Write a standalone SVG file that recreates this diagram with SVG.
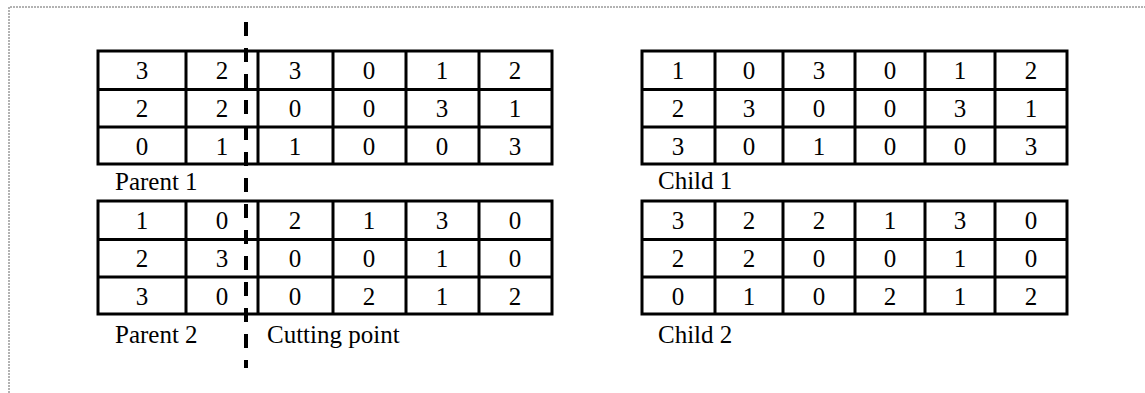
<svg xmlns="http://www.w3.org/2000/svg" width="1145" height="393" viewBox="0 0 1145 393">
<style>
.grid{fill:none;stroke:#000;stroke-width:3}
.n{font-family:"Liberation Serif","Times New Roman",serif;font-size:25px;text-anchor:middle;fill:#000}
.lbl{font-family:"Liberation Serif","Times New Roman",serif;font-size:25px;fill:#000}
.frame{stroke:#666;stroke-width:1;stroke-dasharray:2 1;fill:none}
</style>
<rect width="1145" height="393" fill="#fff"/>
<path class="frame" d="M9,393 V7 H1145"/>

<g id="parent1">
<rect class="grid" x="98" y="51" width="454" height="113"/>
<path class="grid" d="M186,51V164M258,51V164M333,51V164M406,51V164M479,51V164M98,89.5H552M98,127H552"/>
<g class="n">
<text x="142" y="79">3</text><text x="222" y="79">2</text><text x="295" y="79">3</text><text x="369" y="79">0</text><text x="442" y="79">1</text><text x="515" y="79">2</text>
<text x="142" y="117">2</text><text x="222" y="117">2</text><text x="295" y="117">0</text><text x="369" y="117">0</text><text x="442" y="117">3</text><text x="515" y="117">1</text>
<text x="142" y="155">0</text><text x="222" y="155">1</text><text x="295" y="155">1</text><text x="369" y="155">0</text><text x="442" y="155">0</text><text x="515" y="155">3</text>
</g>
<text class="lbl" x="115" y="190">Parent 1</text>
</g>

<g id="parent2">
<rect class="grid" x="98" y="201" width="454" height="113"/>
<path class="grid" d="M186,201V314M258,201V314M333,201V314M406,201V314M479,201V314M98,239.5H552M98,277H552"/>
<g class="n">
<text x="142" y="229">1</text><text x="222" y="229">0</text><text x="295" y="229">2</text><text x="369" y="229">1</text><text x="442" y="229">3</text><text x="515" y="229">0</text>
<text x="142" y="267">2</text><text x="222" y="267">3</text><text x="295" y="267">0</text><text x="369" y="267">0</text><text x="442" y="267">1</text><text x="515" y="267">0</text>
<text x="142" y="305">3</text><text x="222" y="305">0</text><text x="295" y="305">0</text><text x="369" y="305">2</text><text x="442" y="305">1</text><text x="515" y="305">2</text>
</g>
<text class="lbl" x="115" y="343">Parent 2</text>
</g>

<g id="child1">
<rect class="grid" x="642" y="51" width="425" height="113"/>
<path class="grid" d="M715,51V164M783,51V164M855,51V164M925,51V164M995,51V164M642,89.5H1067M642,127H1067"/>
<g class="n">
<text x="678" y="79">1</text><text x="749" y="79">0</text><text x="819" y="79">3</text><text x="890" y="79">0</text><text x="960" y="79">1</text><text x="1031" y="79">2</text>
<text x="678" y="117">2</text><text x="749" y="117">3</text><text x="819" y="117">0</text><text x="890" y="117">0</text><text x="960" y="117">3</text><text x="1031" y="117">1</text>
<text x="678" y="155">3</text><text x="749" y="155">0</text><text x="819" y="155">1</text><text x="890" y="155">0</text><text x="960" y="155">0</text><text x="1031" y="155">3</text>
</g>
<text class="lbl" x="658" y="189">Child 1</text>
</g>

<g id="child2">
<rect class="grid" x="642" y="201" width="425" height="113"/>
<path class="grid" d="M715,201V314M783,201V314M855,201V314M925,201V314M995,201V314M642,239.5H1067M642,277H1067"/>
<g class="n">
<text x="678" y="229">3</text><text x="749" y="229">2</text><text x="819" y="229">2</text><text x="890" y="229">1</text><text x="960" y="229">3</text><text x="1031" y="229">0</text>
<text x="678" y="267">2</text><text x="749" y="267">2</text><text x="819" y="267">0</text><text x="890" y="267">0</text><text x="960" y="267">1</text><text x="1031" y="267">0</text>
<text x="678" y="305">0</text><text x="749" y="305">1</text><text x="819" y="305">0</text><text x="890" y="305">2</text><text x="960" y="305">1</text><text x="1031" y="305">2</text>
</g>
<text class="lbl" x="658" y="343">Child 2</text>
</g>

<g id="cutting-point">
<line x1="246" y1="22" x2="246" y2="368" stroke="#000" stroke-width="4" stroke-dasharray="14 12"/>
<text class="lbl" x="267" y="343">Cutting point</text>
</g>
</svg>
